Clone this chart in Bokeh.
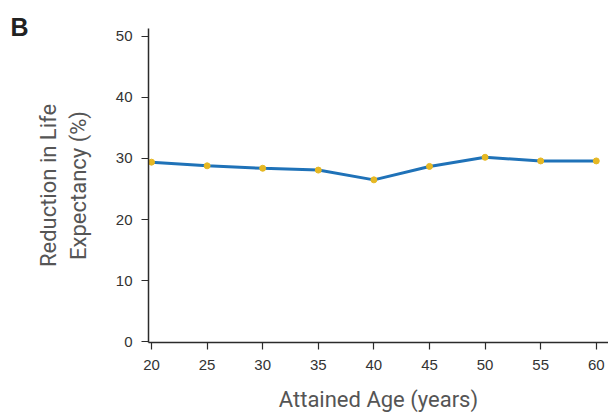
from bokeh.plotting import figure
from bokeh.models import Range1d, Label
from bokeh.embed import file_html
from bokeh.resources import INLINE

ages = [20, 25, 30, 35, 40, 45, 50, 55, 60]
reduction = [29.4, 28.8, 28.4, 28.1, 26.5, 28.7, 30.2, 29.6, 29.6]
x_ticks = [20, 25, 30, 35, 40, 45, 50, 55, 60]
y_ticks = [0, 10, 20, 30, 40, 50]

p = figure(width=608, height=414, output_backend="svg", toolbar_location=None,
           x_range=Range1d(19.73, 61.1), y_range=Range1d(-0.15, 51.3),
           min_border_left=148, min_border_right=0, min_border_top=25, min_border_bottom=70)
p.outline_line_color = None
p.grid.grid_line_color = None
p.background_fill_color = "white"

p.line(ages, reduction, line_color="#1f72b8", line_width=3)
p.scatter(ages, reduction, size=6, fill_color="#e6b823", line_color="#e6b823")

for ax in (p.xaxis, p.yaxis):
    ax.axis_line_color = "#2b2b2b"
    ax.axis_line_width = 1.5
    ax.major_tick_line_color = "#2b2b2b"
    ax.major_tick_line_width = 1.2
    ax.major_tick_out = 7
    ax.major_tick_in = 0
    ax.minor_tick_line_color = None
    ax.major_label_text_font = "Liberation Sans"
    ax.major_label_text_font_size = "15px"
    ax.major_label_text_color = "#333333"
    ax.axis_label_text_font = "Roboto"
    ax.axis_label_text_font_style = "normal"
    ax.axis_label_text_color = "#555555"
    ax.axis_label_text_font_size = "22px"

p.xaxis.ticker = x_ticks
p.yaxis.ticker = y_ticks
p.xaxis.axis_label = "Attained Age (years)"
p.yaxis.axis_label = "Reduction in Life\nExpectancy (%)"
p.xaxis.major_label_standoff = 10
p.yaxis.major_label_standoff = 9
p.xaxis.axis_label_standoff = 14
p.yaxis.axis_label_standoff = 22

p.add_layout(Label(x=-138, y=2, x_units="screen", y_units="screen", text="B",
                   text_font="Liberation Sans", text_font_style="bold",
                   text_baseline="alphabetic",
                   text_font_size="25px", text_color="#222222"), "above")

open("out.html", "w").write(file_html(p, INLINE))
